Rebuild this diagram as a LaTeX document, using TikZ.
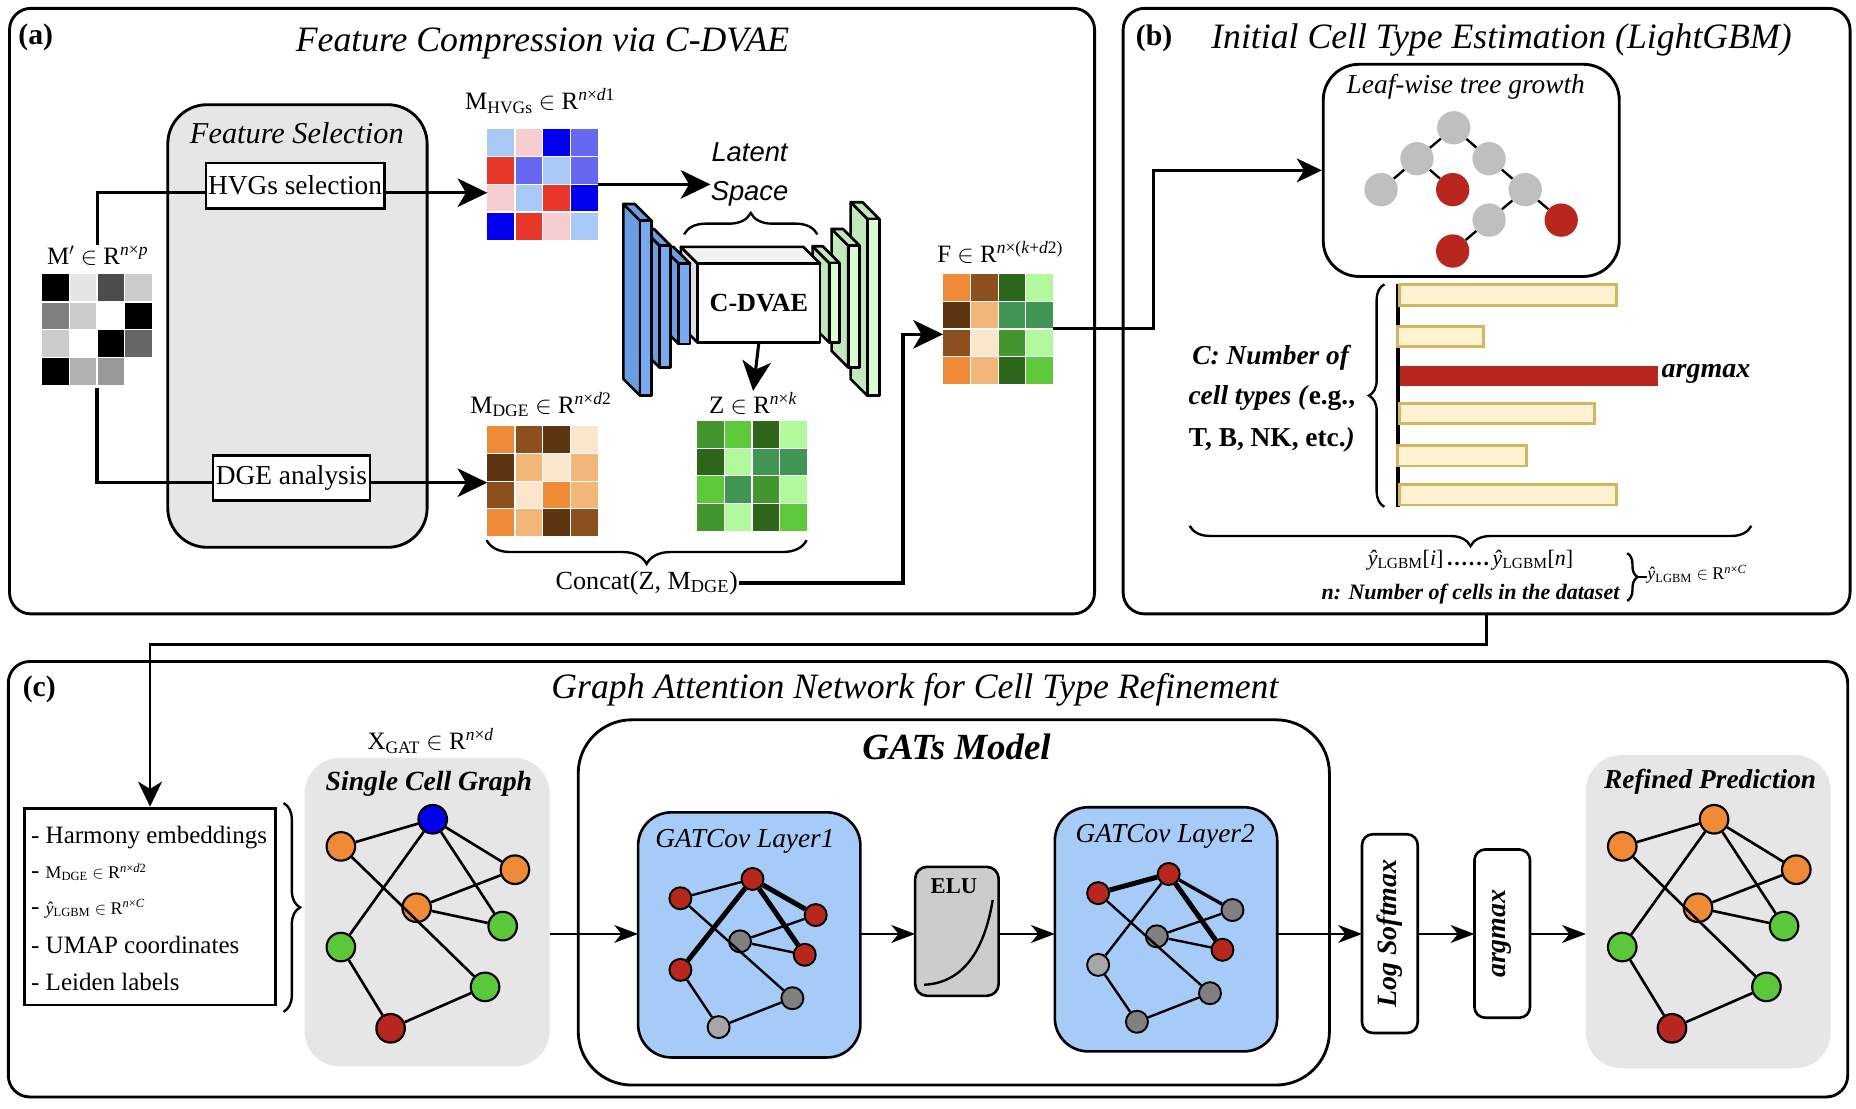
\documentclass[tikz,border=0pt]{standalone}
\usepackage{fontspec}
\setmainfont{Liberation Serif}
\newfontfamily\lsans{Liberation Sans}
\usetikzlibrary{arrows.meta,decorations.pathreplacing,calc}
\definecolor{cLB}{HTML}{A9C9F7}
\definecolor{cPK}{HTML}{F6CDD1}
\definecolor{cBL}{HTML}{0000EE}
\definecolor{cMB}{HTML}{6767F2}
\definecolor{cRD}{HTML}{E8362A}
\definecolor{cOR}{HTML}{EF8A36}
\definecolor{cBR}{HTML}{8C4F1E}
\definecolor{cDB}{HTML}{5E3511}
\definecolor{cCR}{HTML}{FAE5CD}
\definecolor{cLO}{HTML}{F2B678}
\definecolor{cGa}{HTML}{43962E}
\definecolor{cGb}{HTML}{5DC93B}
\definecolor{cGc}{HTML}{2B6619}
\definecolor{cGd}{HTML}{B2F99E}
\definecolor{cGe}{HTML}{409552}
\definecolor{nOR}{HTML}{EF8A36}
\definecolor{nGR}{HTML}{5BC83A}
\definecolor{nRD}{HTML}{B8271E}
\definecolor{nBL}{HTML}{0000EE}
\definecolor{boxgray}{HTML}{E6E6E6}
\definecolor{gatblue}{HTML}{A6CBF7}
\definecolor{slabB}{HTML}{77AAF2}
\definecolor{slabBs}{HTML}{6B9DE0}
\definecolor{slabG}{HTML}{D8FBD2}
\definecolor{slabGs}{HTML}{C1E7BC}
\definecolor{barfill}{HTML}{FDF2D2}
\definecolor{bardraw}{HTML}{D6B55E}
\definecolor{treegray}{HTML}{BFBFBF}
\definecolor{ndgray}{HTML}{808080}
\definecolor{nlgray}{HTML}{A6A6A6}
\newcommand\fsz[1]{\fontsize{#1}{#1}\selectfont}
\def\cw{23.2}
\newcommand\cellgrid[2]{%
  \foreach \c [count=\i from 0] in {#2} {
    \pgfmathtruncatemacro\rr{\i/4}
    \pgfmathtruncatemacro\cc{\i-4*\rr}
    \fill[\c] ($(#1.north west)+(\cc*\cw,\rr*\cw)$) rectangle ++(\cw,\cw);
  }
  \foreach \k in {1,2,3} {
    \draw[white, line width=1pt] ($(#1.north west)+(\k*\cw,0)$) -- ++(0,4*\cw);
    \draw[white, line width=1pt] ($(#1.north west)+(0,\k*\cw)$) -- ++(4*\cw,0);
  }
}
\def\dd{14}
\newcommand\slabbox[7]{%
  \filldraw[fill=#6, line width=2.2pt, line join=round] (#1,#2) -- ++(-\dd,-\dd) -- ++(0,#3-#2) -- (#1,#3) -- cycle;
  \filldraw[fill=#7, line width=2.2pt, line join=round] (#1,#2) -- ++(-\dd,-\dd) -- ++(#4,0) -- ({#1+#4},#2) -- cycle;
  \filldraw[fill=#5, line width=2.2pt, line join=round] (#1,#2) rectangle ({#1+#4},#3);
}
\newcommand\cellgraph[3]{%
  \node[gn, fill=#3] (#1a) at ({363.7+#2},688.6) {};
  \node[gn, fill=nOR] (#1b) at ({286.5+#2},711.4) {};
  \node[gn, fill=nOR] (#1c) at ({432.8+#2},731) {};
  \node[gn, fill=nOR] (#1d) at ({350.2+#2},763) {};
  \node[gn, fill=nGR] (#1e) at ({422.5+#2},778.4) {};
  \node[gn, fill=nGR] (#1f) at ({286.5+#2},796) {};
  \node[gn, fill=nGR] (#1g) at ({407.7+#2},829.5) {};
  \node[gn, fill=nRD] (#1h) at ({328.3+#2},864.3) {};
  \draw[ge] (#1a) -- (#1b) (#1a) -- (#1c) (#1a) -- (#1e) (#1a) -- (#1f)
    (#1b) -- (#1g) (#1c) -- (#1d) (#1d) -- (#1e) (#1f) -- (#1h) (#1h) -- (#1g);
}
\begin{document}
\begin{tikzpicture}[x=1pt,y=-1pt,
  panel/.style={draw, line width=2.4pt, rounded corners=18pt, inner sep=0, outer sep=0},
  ttl/.style={font=\fsz{30}\itshape, inner sep=0},
  plab/.style={font=\fsz{25}\bfseries, inner sep=0},
  mlab/.style={font=\fsz{21}, inner sep=1pt},
  sbox/.style={draw, line width=2.2pt, fill=white, inner sep=0, font=\fsz{23}},
  grayarea/.style={fill=boxgray, rounded corners=30pt, inner sep=0, outer sep=0},
  matbox/.style={minimum width=92.8pt, minimum height=92.8pt, inner sep=0, outer sep=0},
  conn/.style={line width=2.6pt},
  bigarr/.style={conn, -{Stealth[length=25pt,width=24pt,inset=7pt]}},
  midarr/.style={line width=2.4pt, -{Stealth[length=21pt,width=20pt,inset=6pt]}},
  carr/.style={line width=2pt, -{Stealth[length=20pt,width=15pt,inset=6pt]}},
  tnode/.style={circle, minimum size=28pt, inner sep=0},
  gn/.style={circle, draw, line width=1.8pt, minimum size=24pt, inner sep=0},
  sn/.style={circle, draw, line width=1.6pt, minimum size=18.5pt, inner sep=0},
  ge/.style={line width=2.2pt},
  gthin/.style={line width=2pt},
  gmid/.style={line width=2.8pt},
  gthick/.style={line width=4.2pt},
  barst/.style={draw=bardraw, fill=barfill, line width=2.4pt},
  brc/.style={decorate, decoration={brace, amplitude=#1}, line width=2pt},
  gbox/.style={draw, line width=2.2pt, inner sep=0, outer sep=0}
]
\useasboundingbox (0,0) rectangle (1560,931.3);
\fill[white] (0,0) rectangle (1560,931.3);

% ---------- panels ----------
\node[panel, minimum width=912pt, minimum height=509pt] (pa) at (464,261.5) {};
\node[panel, minimum width=611pt, minimum height=509pt] (pb) at (1249.5,261.5) {};
\node[panel, minimum width=1546pt, minimum height=366pt] (pc) at (780,739) {};
\node[plab] (la) at (30,31) {(a)};
\node[ttl] (ta) at (456,36.7) {Feature Compression via C-DVAE};
\node[plab] (lb) at (970,32) {(b)};
\node[ttl] (tb) at (1262,33.8) {Initial Cell Type Estimation (LightGBM)};
\node[plab] (lc) at (33,579.7) {(c)};
\node[ttl] (tc) at (769,580) {Graph Attention Network for Cell Type Refinement};

% ---------- panel (a) ----------
\node[grayarea, draw, line width=2.4pt, rounded corners=33pt, minimum width=218pt, minimum height=372pt] (fs) at (250,274) {};
\node[font=\fsz{25.5}\itshape, inner sep=0] (fst) at (249.5,112) {Feature Selection};
\node[sbox, minimum width=150pt, minimum height=38pt] (hvg) at (248,156) {HVGs selection};
\node[sbox, minimum width=132pt, minimum height=38pt] (dge) at (245,401.7) {DGE analysis};

\node[matbox] (mp) at (81.5,277) {};
\cellgrid{mp}{black, black!10, black!70, black!20, black!50, black!20, white, black, black!20, white, black, black!60, black, black!30, black!40, white}
\node[mlab] (mplab) at (82,215) {M$'$ $\in$ R\textsuperscript{\textit{n}×\textit{p}}};

\node[matbox] (mhvg) at (456,155) {};
\cellgrid{mhvg}{cLB, cPK, cBL, cMB, cRD, cMB, cLB, cMB, cPK, cLB, cRD, cBL, cBL, cRD, cPK, cLB}
\node[mlab] (mhvglab) at (454,85) {M\textsubscript{HVGs} $\in$ R\textsuperscript{\textit{n}×\textit{d}1}};

\node[matbox] (mdge) at (456,404.5) {};
\cellgrid{mdge}{cOR, cBR, cDB, cCR, cDB, cLO, cCR, cLO, cBR, cCR, cOR, cLO, cOR, cLO, cDB, cBR}
\node[mlab] (mdgelab) at (454.6,340) {M\textsubscript{DGE} $\in$ R\textsuperscript{\textit{n}×\textit{d}2}};

\node[matbox] (zmat) at (632,400) {};
\cellgrid{zmat}{cGa, cGb, cGc, cGd, cGc, cGd, cGe, cGe, cGb, cGe, cGa, cGd, cGa, cGd, cGc, cGb}
\node[mlab] (zlab) at (633,339) {Z $\in$ R\textsuperscript{\textit{n}×\textit{k}}};

\node[matbox] (fmat) at (839,276.5) {};
\cellgrid{fmat}{cOR, cBR, cGc, cGd, cDB, cLO, cGe, cGe, cBR, cCR, cGa, cGd, cOR, cLO, cGc, cGb}
\node[mlab] (flab) at (840.7,212.5) {F $\in$ R\textsuperscript{\textit{n}×(\textit{k}+\textit{d}2)}};

\coordinate (yh) at (0,162);
\coordinate (yd) at (0,405.7);
\coordinate (yl) at (0,155);
\draw[conn] (mplab.north) |- (hvg.west |- yh);
\draw[bigarr] (hvg.east |- yh) -- (mhvg.west |- yh);
\draw[conn] ([yshift=-3pt]mp.south) |- (dge.west |- yd);
\draw[bigarr] (dge.east |- yd) -- (mdge.west |- yd);

% C-DVAE
\slabbox{729}{184}{332.6}{10}{slabG}{slabGs}{slabGs}
\slabbox{713}{206.5}{309}{9.5}{slabG}{slabGs}{slabGs}
\slabbox{697}{221}{288}{8.5}{slabG}{slabGs}{slabGs}
\slabbox{586.3}{221.5}{288}{103}{white}{black!12}{black!5}
\slabbox{570.4}{221.5}{289}{9.6}{slabB}{slabBs}{slabBs}
\slabbox{554.5}{206.5}{309}{9.2}{slabB}{slabBs}{slabBs}
\slabbox{538}{185.5}{332.6}{9.5}{slabB}{slabBs}{slabBs}
\node[font=\fsz{22}\bfseries, inner sep=0, minimum width=103pt, minimum height=66.5pt] (cdvae) at (637.8,254.75) {C-DVAE};
\draw[bigarr] (cdvae.south) -- (zlab.north);

\node[font=\lsans\itshape\fsz{23}, inner sep=0] (latent) at (630,128) {Latent};
\node[font=\lsans\itshape\fsz{23}, inner sep=0] (space) at (630,163) {Space};
\draw[bigarr] (mhvg.east |- yl) -- (space.west |- yl);
\draw[brc=18pt] (575,197) -- (687,197);

\draw[brc=20pt] (678,454) -- (409,454);
\node[font=\fsz{22}, inner sep=1pt] (concat) at (543.6,490) {Concat(Z, M\textsubscript{DGE})};
\coordinate (cc) at (759,490);
\coordinate (yf) at (0,281);
\draw[bigarr] (concat.east) -- (cc) |- (fmat.west |- yf);

% ---------- panel (b) ----------
\node[draw, line width=2.4pt, rounded corners=30pt, minimum width=248.8pt, minimum height=178.3pt, inner sep=0] (tree) at (1236.6,143.2) {};
\node[font=\fsz{23}\itshape, inner sep=0] (treet) at (1232,72.6) {Leaf-wise tree growth};
\node[tnode, fill=treegray] (t1) at (1221.9,107.4) {};
\node[tnode, fill=treegray] (t2) at (1191,133.4) {};
\node[tnode, fill=treegray] (t3) at (1251.6,133.4) {};
\node[tnode, fill=treegray] (t4) at (1160.8,159.4) {};
\node[tnode, fill=nRD] (t5) at (1221,159.4) {};
\node[tnode, fill=treegray] (t6) at (1282,159.4) {};
\node[tnode, fill=treegray] (t7) at (1251.6,185) {};
\node[tnode, fill=nRD] (t8) at (1312.2,185) {};
\node[tnode, fill=nRD] (t9) at (1221,211) {};
\draw[line width=2pt] (t1) -- (t2) (t1) -- (t3) (t2) -- (t4) (t2) -- (t5) (t3) -- (t6) (t6) -- (t7) (t6) -- (t8) (t7) -- (t9);

\coordinate (fx) at (969.7,276);
\draw[midarr] (fmat.east |- fx) -- (fx) |- (tree.west);

\draw[line width=3pt] (1174.9,239) -- (1174.9,426);
\draw[barst] (1176.5,239.1) rectangle (1358.4,256.7);
\draw[barst] (1174.9,274.2) rectangle (1246.8,291.1);
\fill[nRD] (1176.5,307.3) rectangle (1393.7,324.2);
\draw[barst] (1176.5,339.4) rectangle (1340.3,356.3);
\draw[barst] (1174.9,374.2) rectangle (1283.3,391.7);
\draw[barst] (1176.5,406.9) rectangle (1358.4,424.5);
\node[font=\fsz{23.5}\bfseries\itshape, anchor=west, inner sep=0] (amx) at (1396.5,314) {argmax};
\draw[brc=13pt] (1163.6,426) -- (1163.6,239);
\node[font=\fsz{23}\bfseries, inner sep=0] (cl1) at (1069,300.6) {\textit{C: Number of}};
\node[font=\fsz{23}\bfseries, inner sep=0] (cl2) at (1069,334.3) {\textit{cell types (}e.g.,};
\node[font=\fsz{23}\bfseries, inner sep=0] (cl3) at (1069,369.8) {T, B, NK, etc.\textit{)}};

\draw[brc=17pt] (1472,442) -- (1000,442);
\node[font=\fsz{18.5}, inner sep=0] (yhat) at (1236,471) {\textit{ŷ}\textsubscript{LGBM}[\textit{i}]\,\textbf{.\kern1.5pt.\kern1.5pt.\kern1.5pt.\kern1.5pt.\kern1.5pt.}\,\textit{ŷ}\textsubscript{LGBM}[\textit{n}]};
\node[font=\fsz{18.5}\bfseries\itshape, inner sep=0] (ncells) at (1236,499) {n: Number of cells in the dataset};
\draw[brc=9pt] (1367.6,465) -- (1367.6,505);
\node[font=\fsz{15}, inner sep=0, anchor=west] (yin) at (1384.5,483) {\textit{ŷ}\textsubscript{LGBM} $\in$ R\textsuperscript{\textit{n}×\textit{C}}};
\draw[line width=1.5pt] (1376.6,485) -- (yin.west |- 0,485);

% ---------- panel (c) ----------
\node[draw, line width=2.4pt, minimum width=211.6pt, minimum height=165.5pt, inner sep=0] (info) at (126.1,762) {};
\node[font=\fsz{21}, anchor=west, inner sep=0] (i1) at (26,704) {- Harmony embeddings};
\node[font=\fsz{21}, anchor=west, inner sep=0] (i2) at (26,733.2) {- {\fsz{15}M\textsubscript{DGE} $\in$ R\textsuperscript{\textit{n}×\textit{d}2}}};
\node[font=\fsz{21}, anchor=west, inner sep=0] (i3) at (26,763.9) {- {\fsz{15}\textit{ŷ}\textsubscript{LGBM} $\in$ R\textsuperscript{\textit{n}×\textit{C}}}};
\node[font=\fsz{21}, anchor=west, inner sep=0] (i4) at (26,794.6) {- UMAP coordinates};
\node[font=\fsz{21}, anchor=west, inner sep=0] (i5) at (26,825.3) {- Leiden labels};
\draw[brc=14pt] (238.3,675) -- (238.3,850.4);

\coordinate (bc) at (1249.5,542);
\draw[midarr] (pb.south) -- (bc) -| (info.north);

\node[grayarea, minimum width=206pt, minimum height=259.4pt] (scg) at (359,766.7) {};
\node[font=\fsz{23.3}\bfseries\itshape, inner sep=0] (scgt) at (360.5,659) {Single Cell Graph};
\node[mlab] (xgat) at (362,623) {X\textsubscript{GAT} $\in$ R\textsuperscript{\textit{n}×\textit{d}}};
\cellgraph{s}{0}{nBL}

\node[grayarea, minimum width=205.7pt, minimum height=263.2pt] (rp) at (1435.85,766.3) {};
\node[font=\fsz{23}\bfseries\itshape, inner sep=0] (rpt) at (1437.4,657.3) {Refined Prediction};
\cellgraph{r}{1077}{nOR}

\node[gbox, line width=2.4pt, rounded corners=45pt, minimum width=631.4pt, minimum height=307pt] (gats) at (801.7,758.5) {};
\node[font=\fsz{31}\bfseries\itshape, inner sep=0] (gatst) at (804,627.6) {GATs Model};

\node[gbox, fill=gatblue, rounded corners=28pt, minimum width=186.9pt, minimum height=206pt] (g1) at (629.75,785.8) {};
\node[font=\fsz{23}\itshape, inner sep=0] (g1t) at (626.2,707) {GATCov Layer1};
\node[sn, fill=nRD] (p1a) at (571.9,755) {};
\node[sn, fill=nRD] (p1b) at (632.5,738.8) {};
\node[sn, fill=nRD] (p1c) at (685.6,769.1) {};
\node[sn, fill=ndgray] (p1d) at (622,791.2) {};
\node[sn, fill=nRD] (p1e) at (676.4,802.5) {};
\node[sn, fill=nRD] (p1f) at (571.9,815.2) {};
\node[sn, fill=ndgray] (p1g) at (666,839) {};
\node[sn, fill=nlgray] (p1h) at (604,863.3) {};
\draw[gthin] (p1a) -- (p1b) (p1a) -- (p1g) (p1d) -- (p1c) (p1d) -- (p1e) (p1f) -- (p1h) (p1h) -- (p1g);
\draw[gthick] (p1b) -- (p1c) (p1b) -- (p1e) (p1b) -- (p1f);

\node[gbox, fill=black!20, rounded corners=10pt, minimum width=70.2pt, minimum height=108.4pt] (elu) at (804.3,782.8) {};
\node[font=\fsz{19}\bfseries, inner sep=0] (elut) at (801.8,745) {ELU};
\draw[line width=2pt] (776.7,827.7) .. controls (812,826) and (828,795) .. (834.4,756.4);

\node[gbox, fill=gatblue, rounded corners=28pt, minimum width=186.9pt, minimum height=205.2pt] (g2) at (980.05,781.1) {};
\node[font=\fsz{23}\itshape, inner sep=0] (g2t) at (979.4,702.6) {GATCov Layer2};
\node[sn, fill=nRD] (p2a) at (923,750.7) {};
\node[sn, fill=nRD] (p2b) at (982.3,734.6) {};
\node[sn, fill=ndgray] (p2c) at (1035.9,764.9) {};
\node[sn, fill=ndgray] (p2d) at (972.3,787) {};
\node[sn, fill=nRD] (p2e) at (1027.5,798.3) {};
\node[sn, fill=nlgray] (p2f) at (923,811) {};
\node[sn, fill=ndgray] (p2g) at (1017,834.8) {};
\node[sn, fill=ndgray] (p2h) at (955.6,858.8) {};
\draw[gthin] (p2b) -- (p2f) (p2a) -- (p2g) (p2d) -- (p2c) (p2d) -- (p2e) (p2f) -- (p2h) (p2h) -- (p2g);
\draw[gmid] (p2b) -- (p2c);
\draw[gthick] (p2a) -- (p2b) (p2b) -- (p2e);

\node[gbox, fill=white, rounded corners=9pt, minimum width=46.8pt, minimum height=167pt] (ls) at (1168.2,784.7) {};
\node[font=\fsz{23.5}\bfseries\itshape, inner sep=0, rotate=90] (lst) at (1168.2,784.7) {Log Softmax};
\node[gbox, fill=white, rounded corners=9pt, minimum width=46.7pt, minimum height=141.4pt] (am) at (1262.65,784.7) {};
\node[font=\fsz{23.5}\bfseries\itshape, inner sep=0, rotate=90] (amt) at (1262.65,784.7) {argmax};

\coordinate (ya) at (0,785);
\draw[carr] (scg.east |- ya) -- (g1.west |- ya);
\draw[carr] (g1.east |- ya) -- (elu.west |- ya);
\draw[carr] (elu.east |- ya) -- (g2.west |- ya);
\draw[carr] (g2.east |- ya) -- (ls.west |- ya);
\draw[carr] (ls.east |- ya) -- (am.west |- ya);
\draw[carr] (am.east |- ya) -- (rp.west |- ya);
\end{tikzpicture}
\end{document}
